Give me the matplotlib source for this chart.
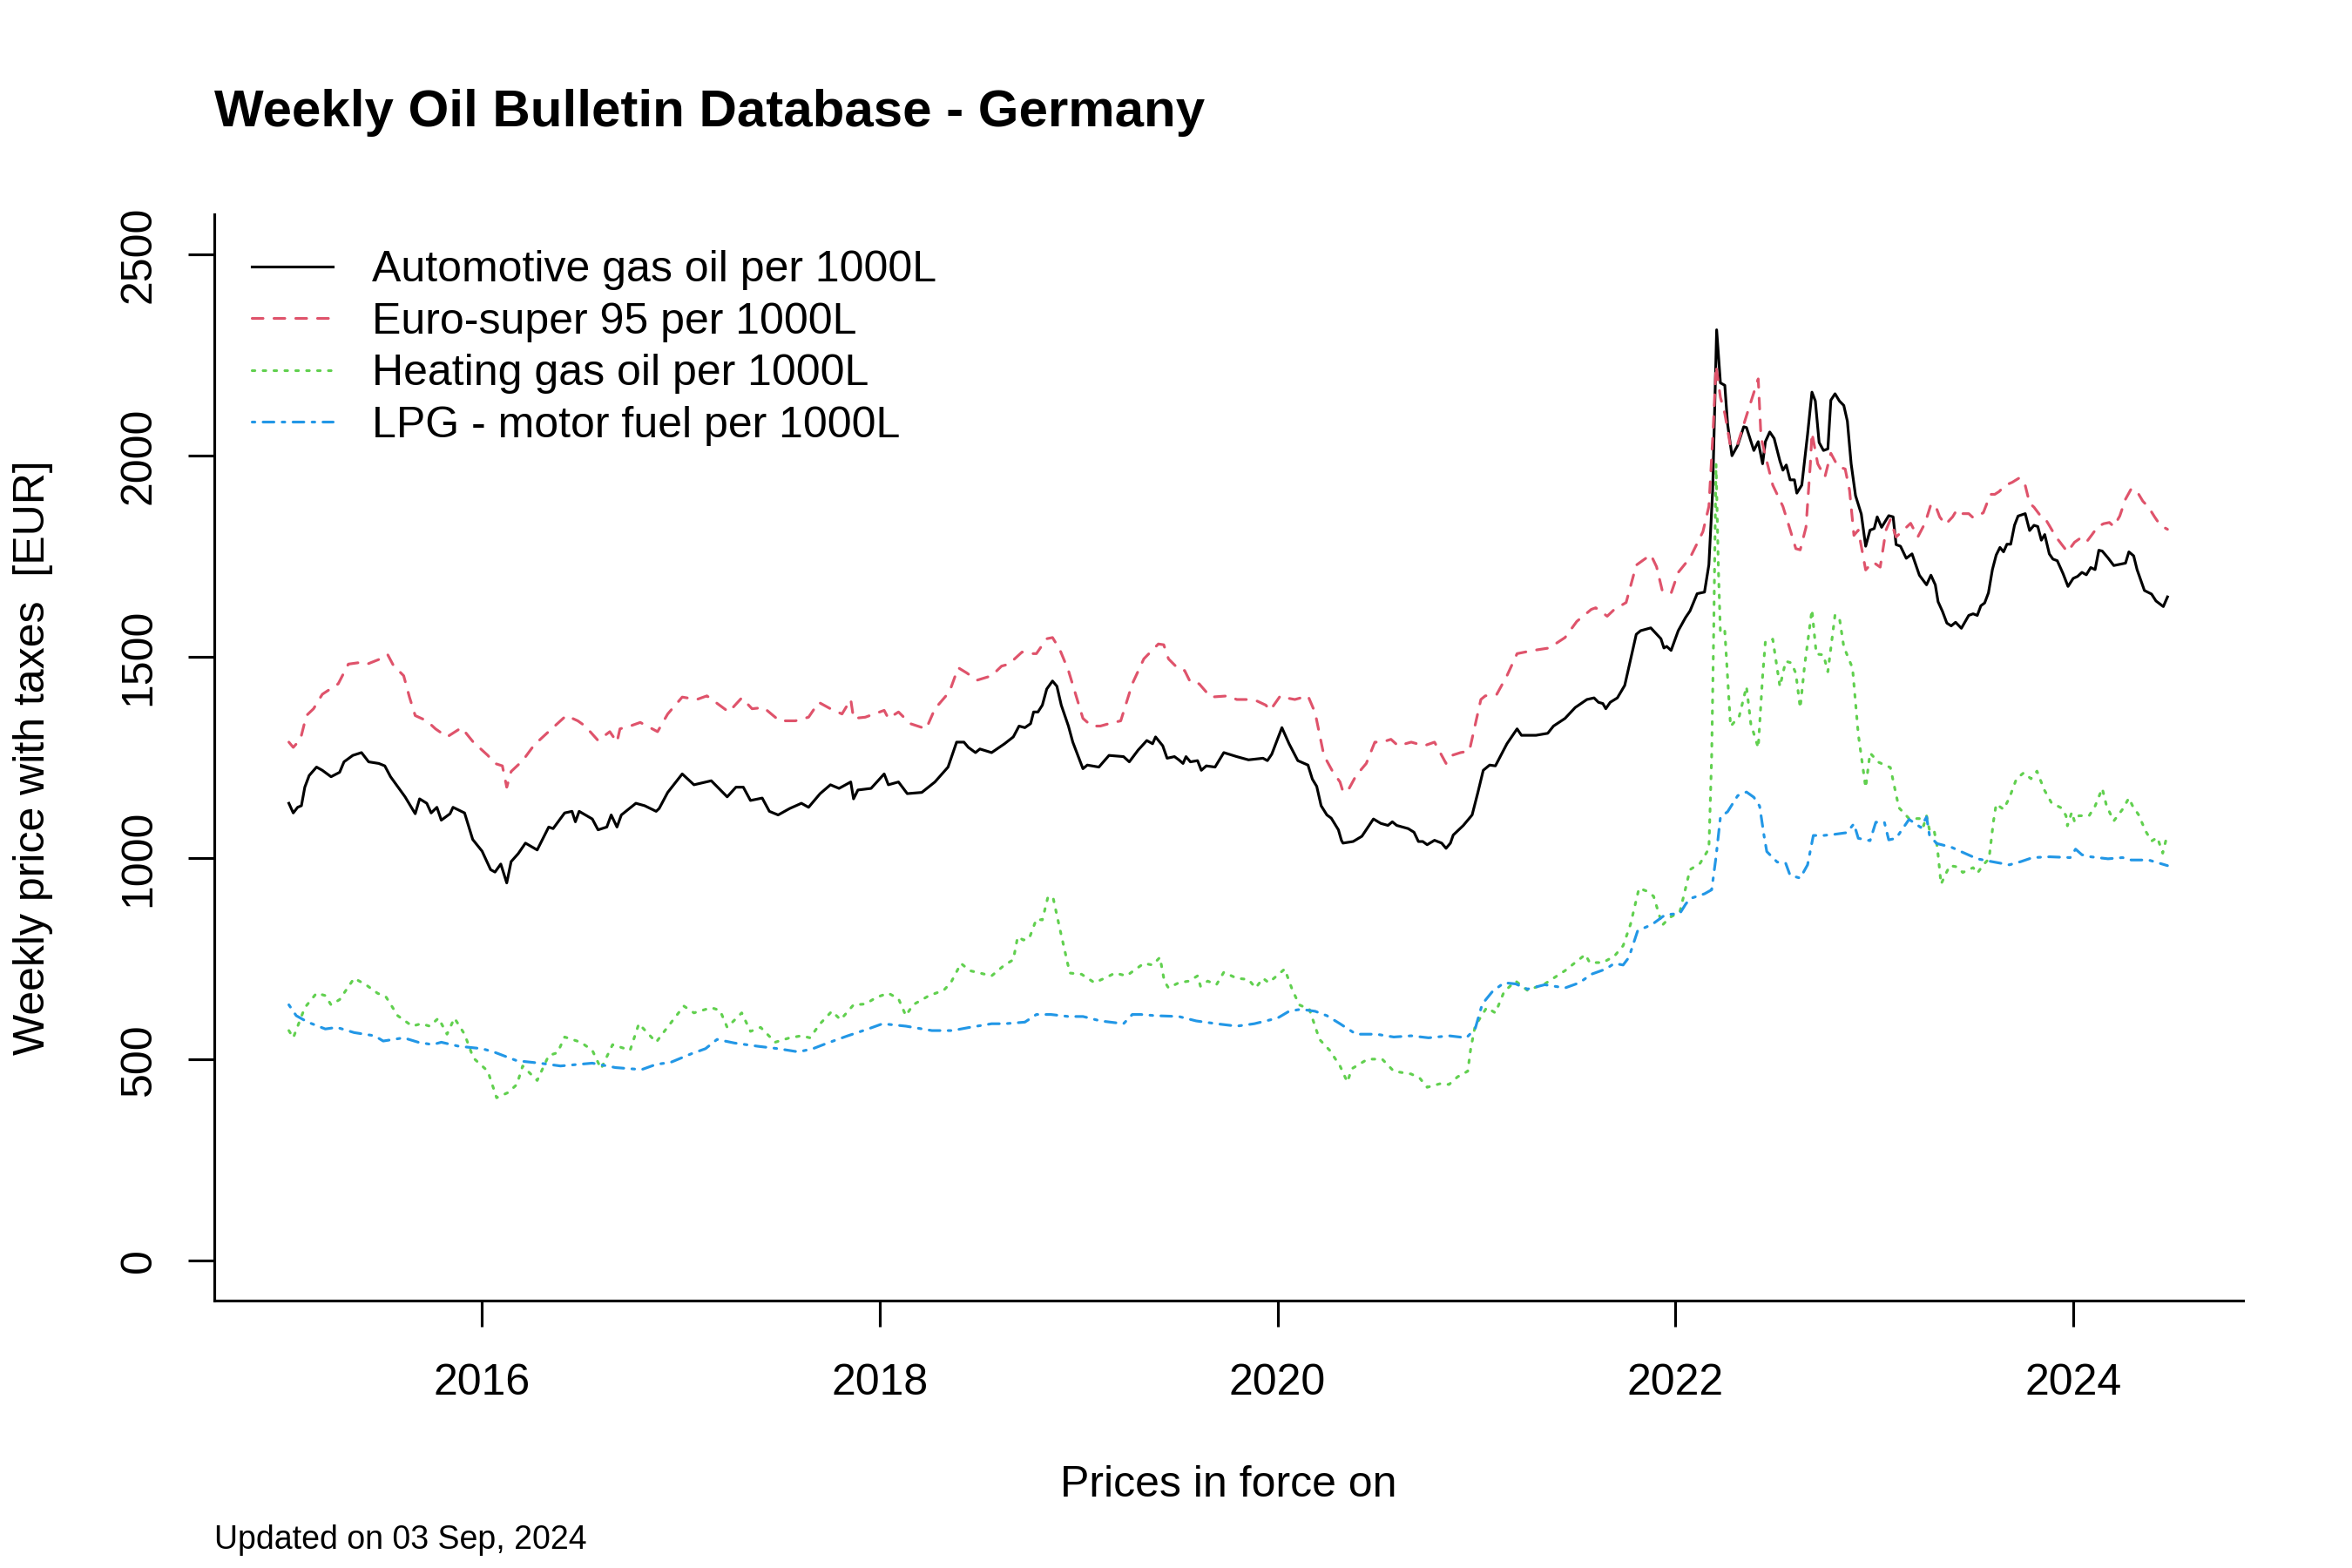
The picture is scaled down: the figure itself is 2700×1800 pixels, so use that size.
import numpy as np
import matplotlib
matplotlib.use("Agg")
import matplotlib.pyplot as plt

plt.rcParams['font.family'] = ['Liberation Sans', 'DejaVu Sans']

# weekly prices: (decimal year, EUR per 1000L)
diesel = [
    (2015.031, 1136), (2015.053, 1112), (2015.075, 1126), (2015.094, 1130), (2015.111, 1176),
    (2015.133, 1205), (2015.170, 1226), (2015.199, 1218), (2015.243, 1202), (2015.286, 1213),
    (2015.308, 1239), (2015.352, 1255), (2015.396, 1262), (2015.432, 1239), (2015.483, 1235),
    (2015.513, 1229), (2015.542, 1202), (2015.615, 1152), (2015.666, 1110), (2015.688, 1147),
    (2015.724, 1136), (2015.746, 1112), (2015.775, 1126), (2015.797, 1094), (2015.841, 1110),
    (2015.856, 1126), (2015.914, 1112), (2015.955, 1046), (2016.002, 1017), (2016.045, 971),
    (2016.067, 965), (2016.096, 985), (2016.126, 938), (2016.148, 991), (2016.184, 1011),
    (2016.220, 1037), (2016.279, 1020), (2016.337, 1077), (2016.359, 1073), (2016.417, 1112),
    (2016.454, 1116), (2016.471, 1090), (2016.490, 1116), (2016.556, 1097), (2016.585, 1070),
    (2016.629, 1077), (2016.651, 1107), (2016.680, 1077), (2016.702, 1107), (2016.775, 1136),
    (2016.819, 1130), (2016.877, 1116), (2016.892, 1123), (2016.935, 1163), (2017.008, 1209),
    (2017.067, 1182), (2017.154, 1192), (2017.234, 1152), (2017.278, 1176), (2017.315, 1176),
    (2017.351, 1143), (2017.410, 1149), (2017.446, 1116), (2017.490, 1107), (2017.548, 1123),
    (2017.607, 1136), (2017.643, 1126), (2017.701, 1160), (2017.753, 1182), (2017.796, 1173),
    (2017.855, 1189), (2017.869, 1147), (2017.891, 1169), (2017.957, 1173), (2018.023, 1209),
    (2018.044, 1182), (2018.095, 1189), (2018.139, 1160), (2018.212, 1163), (2018.278, 1189),
    (2018.344, 1226), (2018.387, 1288), (2018.424, 1288), (2018.446, 1275), (2018.482, 1262),
    (2018.504, 1271), (2018.563, 1262), (2018.628, 1284), (2018.672, 1301), (2018.701, 1328),
    (2018.730, 1324), (2018.759, 1334), (2018.774, 1363), (2018.796, 1363), (2018.818, 1380),
    (2018.840, 1420), (2018.869, 1440), (2018.891, 1427), (2018.913, 1380), (2018.949, 1328),
    (2018.971, 1288), (2019.022, 1222), (2019.044, 1231), (2019.102, 1226), (2019.153, 1255),
    (2019.226, 1252), (2019.255, 1239), (2019.299, 1268), (2019.343, 1292), (2019.372, 1284),
    (2019.387, 1301), (2019.423, 1279), (2019.445, 1248), (2019.482, 1252), (2019.504, 1244),
    (2019.525, 1235), (2019.540, 1252), (2019.562, 1239), (2019.598, 1242), (2019.617, 1218),
    (2019.642, 1229), (2019.686, 1226), (2019.730, 1262), (2019.795, 1252), (2019.854, 1244),
    (2019.927, 1248), (2019.949, 1242), (2019.971, 1258), (2020.022, 1324), (2020.058, 1284),
    (2020.102, 1242), (2020.153, 1231), (2020.175, 1196), (2020.197, 1178), (2020.219, 1130),
    (2020.248, 1107), (2020.270, 1099), (2020.306, 1070), (2020.321, 1044), (2020.329, 1037),
    (2020.380, 1041), (2020.424, 1054), (2020.482, 1097), (2020.519, 1086), (2020.555, 1081),
    (2020.577, 1090), (2020.599, 1081), (2020.657, 1073), (2020.686, 1064), (2020.708, 1041),
    (2020.730, 1041), (2020.752, 1033), (2020.789, 1044), (2020.825, 1037), (2020.847, 1024),
    (2020.869, 1037), (2020.883, 1057), (2020.934, 1081), (2020.978, 1107), (2021.007, 1163),
    (2021.034, 1218), (2021.066, 1231), (2021.095, 1229), (2021.153, 1284), (2021.204, 1321),
    (2021.226, 1305), (2021.299, 1305), (2021.358, 1310), (2021.387, 1328), (2021.445, 1347),
    (2021.496, 1374), (2021.555, 1394), (2021.591, 1398), (2021.613, 1387), (2021.635, 1384),
    (2021.650, 1371), (2021.672, 1387), (2021.708, 1398), (2021.745, 1429), (2021.774, 1493),
    (2021.803, 1556), (2021.825, 1565), (2021.876, 1572), (2021.927, 1545), (2021.942, 1522),
    (2021.956, 1526), (2021.978, 1516), (2022.014, 1565), (2022.051, 1598), (2022.073, 1614),
    (2022.109, 1657), (2022.146, 1661), (2022.168, 1729), (2022.187, 1914), (2022.207, 2313),
    (2022.226, 2181), (2022.248, 2175), (2022.262, 2079), (2022.284, 2000), (2022.313, 2026),
    (2022.343, 2072), (2022.357, 2070), (2022.394, 2013), (2022.416, 2035), (2022.438, 1980),
    (2022.452, 2035), (2022.474, 2059), (2022.496, 2043), (2022.525, 1987), (2022.540, 1964),
    (2022.557, 1977), (2022.576, 1940), (2022.598, 1940), (2022.610, 1907), (2022.635, 1927),
    (2022.664, 2053), (2022.686, 2158), (2022.703, 2136), (2022.722, 2033), (2022.744, 2013),
    (2022.766, 2017), (2022.781, 2138), (2022.802, 2154), (2022.824, 2136), (2022.846, 2125),
    (2022.864, 2086), (2022.883, 1980), (2022.905, 1901), (2022.934, 1855), (2022.956, 1775),
    (2022.978, 1815), (2022.999, 1819), (2023.014, 1848), (2023.036, 1822), (2023.072, 1851),
    (2023.094, 1848), (2023.109, 1779), (2023.131, 1775), (2023.160, 1745), (2023.189, 1756),
    (2023.226, 1703), (2023.262, 1679), (2023.284, 1703), (2023.306, 1679), (2023.320, 1637),
    (2023.342, 1613), (2023.364, 1584), (2023.386, 1577), (2023.408, 1586), (2023.437, 1571),
    (2023.474, 1603), (2023.496, 1607), (2023.517, 1603), (2023.535, 1627), (2023.554, 1634),
    (2023.573, 1659), (2023.593, 1717), (2023.612, 1753), (2023.631, 1772), (2023.649, 1761),
    (2023.666, 1780), (2023.685, 1780), (2023.704, 1827), (2023.722, 1850), (2023.758, 1856),
    (2023.780, 1814), (2023.802, 1827), (2023.821, 1824), (2023.839, 1790), (2023.856, 1804),
    (2023.879, 1756), (2023.897, 1743), (2023.919, 1739), (2023.948, 1707), (2023.973, 1675),
    (2023.999, 1695), (2024.021, 1700), (2024.043, 1710), (2024.065, 1704), (2024.087, 1722),
    (2024.109, 1717), (2024.128, 1765), (2024.145, 1763), (2024.174, 1746), (2024.203, 1727),
    (2024.233, 1730), (2024.262, 1733), (2024.279, 1761), (2024.303, 1751), (2024.320, 1717),
    (2024.357, 1665), (2024.393, 1656), (2024.415, 1639), (2024.452, 1625), (2024.473, 1649),
]

super95 = [
    (2015.031, 1288), (2015.053, 1275), (2015.089, 1295), (2015.119, 1354), (2015.155, 1371),
    (2015.199, 1407), (2015.279, 1433), (2015.330, 1482), (2015.389, 1486), (2015.425, 1482),
    (2015.491, 1495), (2015.527, 1506), (2015.556, 1479), (2015.608, 1453), (2015.637, 1400),
    (2015.666, 1354), (2015.724, 1341), (2015.768, 1321), (2015.826, 1301), (2015.899, 1324),
    (2015.958, 1288), (2016.031, 1255), (2016.067, 1235), (2016.104, 1229), (2016.126, 1176),
    (2016.148, 1215), (2016.206, 1242), (2016.264, 1281), (2016.345, 1318), (2016.425, 1354),
    (2016.483, 1341), (2016.520, 1328), (2016.585, 1292), (2016.644, 1314), (2016.680, 1288),
    (2016.695, 1321), (2016.746, 1328), (2016.797, 1337), (2016.884, 1314), (2016.935, 1358),
    (2017.008, 1400), (2017.081, 1394), (2017.132, 1403), (2017.242, 1363), (2017.307, 1398),
    (2017.359, 1371), (2017.417, 1374), (2017.497, 1341), (2017.577, 1341), (2017.643, 1350),
    (2017.694, 1387), (2017.753, 1371), (2017.811, 1358), (2017.855, 1394), (2017.869, 1347),
    (2017.928, 1350), (2018.023, 1367), (2018.044, 1347), (2018.095, 1363), (2018.154, 1334),
    (2018.234, 1321), (2018.278, 1371), (2018.351, 1413), (2018.395, 1473), (2018.438, 1460),
    (2018.490, 1442), (2018.563, 1453), (2018.613, 1477), (2018.650, 1482), (2018.716, 1512),
    (2018.745, 1508), (2018.788, 1508), (2018.840, 1545), (2018.869, 1548), (2018.905, 1519),
    (2018.949, 1466), (2019.022, 1347), (2019.066, 1328), (2019.110, 1328), (2019.153, 1334),
    (2019.212, 1341), (2019.270, 1433), (2019.328, 1495), (2019.401, 1532), (2019.428, 1530),
    (2019.452, 1495), (2019.504, 1469), (2019.533, 1466), (2019.562, 1437), (2019.606, 1433),
    (2019.664, 1400), (2019.752, 1403), (2019.795, 1394), (2019.847, 1394), (2019.898, 1390),
    (2019.941, 1380), (2019.963, 1367), (2020.014, 1403), (2020.044, 1398), (2020.087, 1394),
    (2020.153, 1403), (2020.189, 1361), (2020.233, 1255), (2020.277, 1215), (2020.314, 1189),
    (2020.329, 1165), (2020.351, 1165), (2020.395, 1205), (2020.446, 1235), (2020.489, 1288),
    (2020.526, 1288), (2020.570, 1295), (2020.606, 1279), (2020.672, 1288), (2020.737, 1279),
    (2020.789, 1288), (2020.847, 1235), (2020.876, 1255), (2020.920, 1262), (2020.964, 1266),
    (2021.022, 1394), (2021.044, 1403), (2021.102, 1407), (2021.153, 1453), (2021.204, 1508),
    (2021.285, 1516), (2021.365, 1522), (2021.445, 1548), (2021.504, 1588), (2021.577, 1618),
    (2021.599, 1622), (2021.657, 1601), (2021.693, 1618), (2021.752, 1635), (2021.803, 1728),
    (2021.876, 1754), (2021.905, 1724), (2021.934, 1664), (2021.978, 1658), (2022.014, 1710),
    (2022.073, 1746), (2022.138, 1811), (2022.168, 1874), (2022.189, 2059), (2022.204, 2224),
    (2022.226, 2145), (2022.248, 2105), (2022.277, 2022), (2022.313, 2030), (2022.365, 2112),
    (2022.416, 2191), (2022.430, 2046), (2022.452, 2000), (2022.489, 1927), (2022.540, 1874),
    (2022.569, 1828), (2022.605, 1769), (2022.627, 1766), (2022.656, 1822), (2022.678, 1980),
    (2022.686, 2057), (2022.715, 1980), (2022.751, 1947), (2022.781, 2006), (2022.817, 1973),
    (2022.853, 1967), (2022.875, 1914), (2022.897, 1802), (2022.919, 1815), (2022.956, 1716),
    (2022.992, 1736), (2023.029, 1723), (2023.058, 1815), (2023.080, 1841), (2023.109, 1798),
    (2023.182, 1832), (2023.218, 1798), (2023.255, 1833), (2023.284, 1879), (2023.306, 1877),
    (2023.328, 1848), (2023.357, 1829), (2023.393, 1848), (2023.415, 1866), (2023.444, 1856),
    (2023.474, 1856), (2023.496, 1846), (2023.547, 1858), (2023.583, 1904), (2023.605, 1904),
    (2023.627, 1911), (2023.656, 1926), (2023.693, 1934), (2023.729, 1945), (2023.758, 1926),
    (2023.780, 1882), (2023.802, 1872), (2023.831, 1853), (2023.853, 1848), (2023.882, 1824),
    (2023.911, 1799), (2023.948, 1775), (2023.970, 1761), (2024.006, 1785), (2024.035, 1795),
    (2024.065, 1785), (2024.094, 1804), (2024.123, 1824), (2024.152, 1831), (2024.181, 1834),
    (2024.203, 1824), (2024.233, 1850), (2024.262, 1892), (2024.291, 1918), (2024.320, 1911),
    (2024.349, 1887), (2024.378, 1872), (2024.408, 1848), (2024.437, 1827), (2024.473, 1817),
]

heating = [
    (2015.031, 571), (2015.053, 553), (2015.111, 628), (2015.170, 664), (2015.214, 658),
    (2015.243, 635), (2015.286, 648), (2015.359, 701), (2015.418, 685), (2015.476, 664),
    (2015.520, 654), (2015.578, 608), (2015.651, 582), (2015.695, 588), (2015.739, 582),
    (2015.783, 602), (2015.826, 562), (2015.863, 602), (2015.914, 562), (2015.958, 503),
    (2016.031, 470), (2016.075, 404), (2016.133, 417), (2016.177, 437), (2016.206, 483),
    (2016.279, 447), (2016.337, 509), (2016.381, 516), (2016.417, 555), (2016.498, 542),
    (2016.556, 522), (2016.600, 476), (2016.658, 536), (2016.746, 522), (2016.790, 588),
    (2016.877, 542), (2016.921, 571), (2017.016, 632), (2017.067, 615), (2017.154, 628),
    (2017.198, 621), (2017.234, 579), (2017.307, 615), (2017.351, 569), (2017.402, 579),
    (2017.475, 542), (2017.548, 553), (2017.607, 558), (2017.650, 553), (2017.701, 588),
    (2017.760, 619), (2017.804, 598), (2017.869, 635), (2017.928, 637), (2017.986, 654),
    (2018.044, 664), (2018.095, 650), (2018.132, 608), (2018.168, 635), (2018.249, 658),
    (2018.322, 671), (2018.358, 690), (2018.409, 738), (2018.453, 720), (2018.563, 707),
    (2018.628, 734), (2018.672, 747), (2018.694, 804), (2018.723, 796), (2018.752, 800),
    (2018.788, 848), (2018.818, 846), (2018.847, 905), (2018.873, 899), (2018.905, 826),
    (2018.956, 714), (2019.015, 711), (2019.080, 690), (2019.139, 703), (2019.183, 714),
    (2019.241, 707), (2019.328, 738), (2019.372, 734), (2019.409, 753), (2019.431, 694),
    (2019.452, 677), (2019.504, 690), (2019.555, 694), (2019.598, 707), (2019.613, 681),
    (2019.649, 694), (2019.693, 685), (2019.730, 716), (2019.795, 701), (2019.854, 698),
    (2019.890, 677), (2019.927, 701), (2019.956, 690), (2020.036, 724), (2020.073, 674),
    (2020.109, 635), (2020.160, 624), (2020.211, 549), (2020.262, 522), (2020.314, 483),
    (2020.351, 443), (2020.373, 476), (2020.453, 500), (2020.526, 500), (2020.584, 470),
    (2020.672, 463), (2020.716, 452), (2020.752, 430), (2020.818, 439), (2020.862, 437),
    (2020.905, 456), (2020.956, 470), (2020.971, 526), (2020.993, 582), (2021.051, 628),
    (2021.095, 615), (2021.139, 668), (2021.197, 694), (2021.256, 671), (2021.343, 687),
    (2021.445, 720), (2021.547, 760), (2021.569, 740), (2021.635, 740), (2021.693, 756),
    (2021.737, 782), (2021.774, 835), (2021.817, 925), (2021.854, 918), (2021.890, 905),
    (2021.934, 833), (2021.971, 852), (2022.022, 866), (2022.051, 925), (2022.073, 971),
    (2022.124, 987), (2022.168, 1023), (2022.182, 1254), (2022.192, 1558), (2022.204, 1980),
    (2022.216, 1716), (2022.226, 1558), (2022.248, 1564), (2022.277, 1327), (2022.321, 1353),
    (2022.357, 1426), (2022.379, 1333), (2022.416, 1274), (2022.438, 1452), (2022.452, 1538),
    (2022.489, 1544), (2022.525, 1426), (2022.554, 1489), (2022.583, 1485), (2022.605, 1459),
    (2022.627, 1373), (2022.649, 1478), (2022.686, 1617), (2022.708, 1507), (2022.744, 1505),
    (2022.766, 1463), (2022.802, 1604), (2022.824, 1597), (2022.846, 1525), (2022.890, 1472),
    (2022.919, 1307), (2022.956, 1175), (2022.978, 1261), (2023.021, 1238), (2023.080, 1225),
    (2023.123, 1125), (2023.174, 1098), (2023.226, 1098), (2023.247, 1080), (2023.262, 1105),
    (2023.277, 1069), (2023.299, 1071), (2023.316, 1027), (2023.335, 935), (2023.357, 959),
    (2023.379, 981), (2023.415, 978), (2023.444, 964), (2023.496, 976), (2023.517, 962),
    (2023.547, 983), (2023.576, 998), (2023.598, 1090), (2023.612, 1134), (2023.649, 1121),
    (2023.678, 1149), (2023.714, 1197), (2023.751, 1212), (2023.787, 1197), (2023.817, 1216),
    (2023.853, 1170), (2023.890, 1137), (2023.941, 1124), (2023.963, 1105), (2023.970, 1080),
    (2023.992, 1114), (2024.006, 1090), (2024.028, 1105), (2024.079, 1105), (2024.109, 1129),
    (2024.145, 1173), (2024.167, 1129), (2024.203, 1092), (2024.247, 1121), (2024.279, 1149),
    (2024.298, 1129), (2024.327, 1108), (2024.364, 1066), (2024.393, 1042), (2024.422, 1051),
    (2024.449, 1012), (2024.466, 1046),
]

lpg = [
    (2015.031, 635), (2015.068, 608), (2015.126, 592), (2015.214, 575), (2015.272, 579),
    (2015.359, 566), (2015.462, 558), (2015.505, 545), (2015.608, 553), (2015.681, 542),
    (2015.753, 536), (2015.797, 542), (2015.885, 532), (2016.002, 526), (2016.060, 518),
    (2016.177, 496), (2016.293, 490), (2016.396, 483), (2016.556, 490), (2016.673, 479),
    (2016.804, 474), (2016.877, 487), (2016.950, 492), (2017.052, 513), (2017.125, 526),
    (2017.183, 549), (2017.271, 540), (2017.388, 532), (2017.490, 526), (2017.592, 518),
    (2017.665, 526), (2017.738, 540), (2017.840, 558), (2017.942, 575), (2018.015, 588),
    (2018.132, 582), (2018.263, 571), (2018.365, 571), (2018.453, 579), (2018.563, 588),
    (2018.628, 588), (2018.730, 592), (2018.788, 611), (2018.861, 611), (2018.949, 606),
    (2019.022, 606), (2019.110, 595), (2019.226, 588), (2019.270, 611), (2019.314, 611),
    (2019.387, 608), (2019.504, 606), (2019.591, 595), (2019.693, 588), (2019.795, 582),
    (2019.883, 588), (2020.000, 602), (2020.058, 619), (2020.117, 624), (2020.189, 619),
    (2020.248, 608), (2020.314, 588), (2020.395, 562), (2020.497, 562), (2020.584, 555),
    (2020.672, 558), (2020.759, 553), (2020.862, 558), (2020.949, 553), (2020.993, 575),
    (2021.029, 637), (2021.080, 668), (2021.139, 690), (2021.197, 687), (2021.256, 674),
    (2021.343, 685), (2021.445, 677), (2021.518, 690), (2021.577, 711), (2021.650, 724),
    (2021.693, 738), (2021.737, 734), (2021.766, 753), (2021.810, 819), (2021.883, 835),
    (2021.949, 859), (2022.022, 862), (2022.051, 885), (2022.073, 899), (2022.146, 911),
    (2022.182, 921), (2022.204, 1003), (2022.226, 1102), (2022.262, 1115), (2022.313, 1155),
    (2022.357, 1164), (2022.394, 1151), (2022.423, 1129), (2022.445, 1056), (2022.459, 1016),
    (2022.511, 990), (2022.554, 987), (2022.576, 957), (2022.627, 950), (2022.664, 983),
    (2022.693, 1056), (2022.744, 1056), (2022.802, 1059), (2022.861, 1063), (2022.897, 1085),
    (2022.919, 1049), (2022.978, 1043), (2023.007, 1089), (2023.050, 1089), (2023.072, 1045),
    (2023.109, 1049), (2023.174, 1096), (2023.233, 1076), (2023.262, 1102), (2023.277, 1056),
    (2023.313, 1036), (2023.386, 1027), (2023.444, 1014), (2023.517, 998), (2023.590, 991),
    (2023.678, 983), (2023.736, 991), (2023.795, 1001), (2023.882, 1003), (2023.984, 1001),
    (2024.011, 1022), (2024.043, 1008), (2024.087, 1003), (2024.174, 998), (2024.247, 1001),
    (2024.291, 995), (2024.378, 995), (2024.473, 981),
]

labels = ["Automotive gas oil per 1000L", "Euro-super 95 per 1000L",
          "Heating gas oil per 1000L", "LPG - motor fuel per 1000L"]
colors = ["black", "#DF536B", "#61D04F", "#2297E6"]
dash_styles = [None, (4, 4), (1, 3), (1, 3, 4, 3)]
year_ticks = [2016, 2018, 2020, 2022, 2024]
price_ticks = [0, 500, 1000, 1500, 2000, 2500]

fig = plt.figure(figsize=(9, 6), dpi=300)
ax = fig.add_axes([0.0911, 0.1706, 0.8626, 0.6927])

for series, lab, col, ds in zip([diesel, super95, heating, lpg], labels, colors, dash_styles):
    t, v = np.array(series, dtype=float).T
    line, = ax.plot(t, v, color=col, lw=0.75, label=lab)
    if ds is not None:
        line.set_dashes(ds)
        line.set_dash_capstyle('round')

ax.set_xlim(2014.656, 2024.853)
ax.set_ylim(-100, 2600)
ax.set_xticks(year_ticks)
ax.set_yticks(price_ticks)
ax.tick_params(direction='out', length=7.2, width=0.75, labelsize=12, color='black')
ax.tick_params(axis='x', pad=10)
ax.tick_params(axis='y', pad=8)
for lab in ax.get_yticklabels():
    lab.set_rotation(90)
    lab.set_va('center')

for side in ['top', 'right']:
    ax.spines[side].set_visible(False)
for side in ['left', 'bottom']:
    ax.spines[side].set_linewidth(0.75)

ax.legend(frameon=False, loc='upper left', bbox_to_anchor=(0.0185, 0.967),
          borderaxespad=0, borderpad=0, handlelength=1.86, handletextpad=0.9,
          labelspacing=0.27, fontsize=12)

fig.text(0.0911, 0.9194, "Weekly Oil Bulletin Database - Germany",
         fontsize=14.4, fontweight='bold', ha='left', va='baseline')
fig.text(0.014, 0.5167, "Weekly price with taxes  [EUR]", rotation=90,
         ha='center', va='center', fontsize=12)
fig.text(0.5222, 0.0528, "Prices in force on", ha='center', va='center', fontsize=12)
fig.text(0.0911, 0.0178, "Updated on 03 Sep, 2024", ha='left', va='center', fontsize=9)

fig.savefig("out.png", dpi=300)
